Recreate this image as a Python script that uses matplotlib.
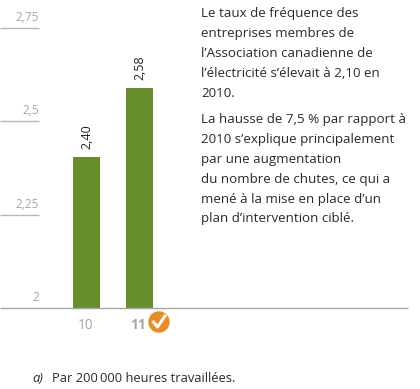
import matplotlib
matplotlib.use('Agg')
from matplotlib import pyplot as plt
from matplotlib.patches import Circle
from matplotlib.transforms import Affine2D

plt.rcParams['font.family'] = ['Open Sans', 'DejaVu Sans']

years = ['10', '11']
bar_heights = [2.405, 2.589]
value_labels = ['2,40', '2,58']
y_ticks = [2, 2.25, 2.5, 2.75]
y_tick_labels = ['2', '2,25', '2,5', '2,75']
para_1 = ['Le taux de fréquence des', 'entreprises membres de',
          'l’Association canadienne de', 'l’électricité s’élevait à 2,10 en', '2010.']
para_2 = ['La hausse de 7,5 % par rapport à', '2010 s’explique principalement',
          'par une augmentation', 'du nombre de chutes, ce qui a',
          'mené à la mise en place d’un', 'plan d’intervention ciblé.']
footnote = 'Par 200\u2009000 heures travaillées.'

W, H = 420, 389
fig = plt.figure(figsize=(W / 100, H / 100), dpi=100)
# pixel coordinates, origin top left
px = Affine2D().scale(1 / W, -1 / H).translate(0, 1) + fig.transFigure

ax = fig.add_axes([0, 1 - 308 / H, 408 / W, 280 / H])
ax.set_xlim(-86.5 / 53, (408 - 86.5) / 53)
ax.set_ylim(2, 2.75)
ax.axis('off')

ax.bar(range(len(years)), bar_heights, width=27 / 53, color='#668e2b', zorder=2)
for i, h in enumerate(bar_heights):
    ax.annotate(value_labels[i], (i, h), xytext=(0, 8), textcoords='offset pixels',
                rotation=90, ha='center', va='bottom', fontsize=9, color='#222222')

# short grid stubs on the left, full line at the bottom
for t, lab in zip(y_ticks, y_tick_labels):
    ax.plot([0, 38.7 / 408] if t > 2 else [0, 1], [t, t], transform=ax.get_yaxis_transform(),
            color='#b5b8b8' if t > 2 else '#a0a8a5', lw=1.0, clip_on=False, solid_capstyle='butt')
    ax.annotate(lab, (38.7 / 408, t), xycoords=ax.get_yaxis_transform(), xytext=(0, 4),
                textcoords='offset pixels', ha='right', va='bottom', fontsize=8.6, color='#a3a6a6')

ax.annotate(years[0], (0, 2), xytext=(-1, -10), textcoords='offset pixels', ha='center', va='top',
            fontsize=9.8, color='#a3a6a6')
ax.annotate(years[1], (1, 2), xytext=(-1, -10), textcoords='offset pixels', ha='center', va='top',
            fontsize=9.8, fontweight='bold', color='#a3a6a6')

# orange check badge
fig.add_artist(Circle((159, 322), 10, transform=px, color='#ec8b23'))
fig.add_artist(plt.Line2D([153.5, 157.5, 165], [322, 327, 316], transform=px, color='white', lw=2.2))

for i, line in enumerate(para_1):
    fig.text(201, 13 + i * 20.2, line, transform=px, fontsize=9.6, color='#2a2a2a', va='center')
for i, line in enumerate(para_2):
    fig.text(201, 120 + i * 19.8, line, transform=px, fontsize=9.6, color='#2a2a2a', va='center')

fig.text(32, 379, 'a)', transform=px, fontsize=9.3, style='italic', color='#2a2a2a', va='center')
fig.text(52, 379, footnote, transform=px, fontsize=9.3, color='#2a2a2a', va='center')

fig.savefig('out.png', dpi=100)
